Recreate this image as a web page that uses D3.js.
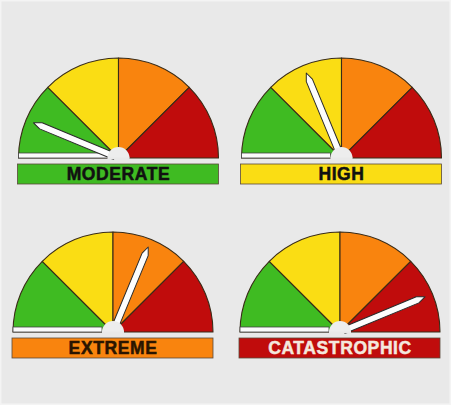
<!DOCTYPE html>
<html>
<head>
<meta charset="utf-8">
<script src="https://cdn.jsdelivr.net/npm/d3@7"></script>
<style>
  html, body { margin: 0; padding: 0; background: #e9e9e9; }
  svg { display: block; }
</style>
</head>
<body>
<svg id="chart" width="451" height="405"></svg>
<script>
// ---- data ----
const levels = ["MODERATE", "HIGH", "EXTREME", "CATASTROPHIC"];
const needleValues = [12.5, 37.5, 62.5, 87.5];   // position on a 0–100 dial
const bandBreaks = [0, 25, 50, 75, 100];
const bandNames = ["moderate", "high", "extreme", "catastrophic"];

// ---- styles / layout ----
const bandColors = ["#3fbb22", "#fadd14", "#f9840e", "#c00c0c"];
const labelTextColors = ["#111111", "#111111", "#2a1500", "#f4e8de"];
const panels = [
  { cx: 118.5, cy: 158 },
  { cx: 341.5, cy: 158 },
  { cx: 113,   cy: 332 },
  { cx: 340,   cy: 332 }
];
const R = 100, hubR = 11, stroke = "#3a2c18";

const svg = d3.select("#chart");
svg.append("rect").attr("x", 0.75).attr("y", 0.75).attr("width", 449.5).attr("height", 403.5)
  .attr("fill", "#e9e9e9").attr("stroke", "#f4f4f4").attr("stroke-width", 1.5);

const angle = d3.scaleLinear().domain([0, 100]).range([-Math.PI / 2, Math.PI / 2]);
const arc = d3.arc().innerRadius(0).outerRadius(R);
const bands = bandNames.map((n, i) => ({ name: n, from: bandBreaks[i], to: bandBreaks[i + 1], color: bandColors[i] }));

levels.forEach((label, i) => {
  const p = panels[i];
  const g = svg.append("g").attr("transform", `translate(${p.cx},${p.cy})`);

  // sectors
  g.selectAll("path.band").data(bands).join("path")
    .attr("class", "band")
    .attr("d", d => arc({ startAngle: angle(d.from), endAngle: angle(d.to) }))
    .attr("fill", d => d.color)
    .attr("stroke", stroke).attr("stroke-width", 1.1).attr("stroke-linejoin", "round");

  // white rest strip at base of left half
  g.append("rect")
    .attr("x", -R).attr("y", -5).attr("width", R - hubR).attr("height", 5)
    .attr("fill", "#fbfbfb").attr("stroke", "#444").attr("stroke-width", 0.8);

  // needle
  const a = angle(needleValues[i]) * 180 / Math.PI;
  const needle = "M-3.3,-4 L-3.3,-84 L0,-92 L3.3,-84 L3.3,-4 Z";
  g.append("path").attr("d", needle)
    .attr("transform", `rotate(${a})`)
    .attr("fill", "#fdfdfd").attr("stroke", "#2a2a2a").attr("stroke-width", 1).attr("stroke-linejoin", "round");

  // hub
  const hub = d3.arc().innerRadius(0).outerRadius(hubR);
  g.append("path").attr("d", hub({ startAngle: -Math.PI / 2, endAngle: Math.PI / 2 }))
    .attr("fill", "#ededed");
  g.append("rect").attr("x", -hubR).attr("y", -0.6).attr("width", hubR * 2).attr("height", 2).attr("fill", "#e9e9e9");

  // label bar
  g.append("rect")
    .attr("x", -R - 1).attr("y", 6).attr("width", 2 * R + 1).attr("height", 20)
    .attr("fill", bandColors[i]).attr("stroke", "#5a4a3a").attr("stroke-width", 0.8);
  g.append("text")
    .attr("x", 0).attr("y", 22.3)
    .attr("text-anchor", "middle")
    .attr("font-family", "'Liberation Sans', Arial, Helvetica, sans-serif")
    .attr("font-weight", "bold").attr("font-size", 17.5)
    .attr("letter-spacing", 0.6)
    .attr("fill", labelTextColors[i])
    .attr("stroke", labelTextColors[i]).attr("stroke-width", 0.5)
    .text(label);
});
</script>
</body>
</html>
